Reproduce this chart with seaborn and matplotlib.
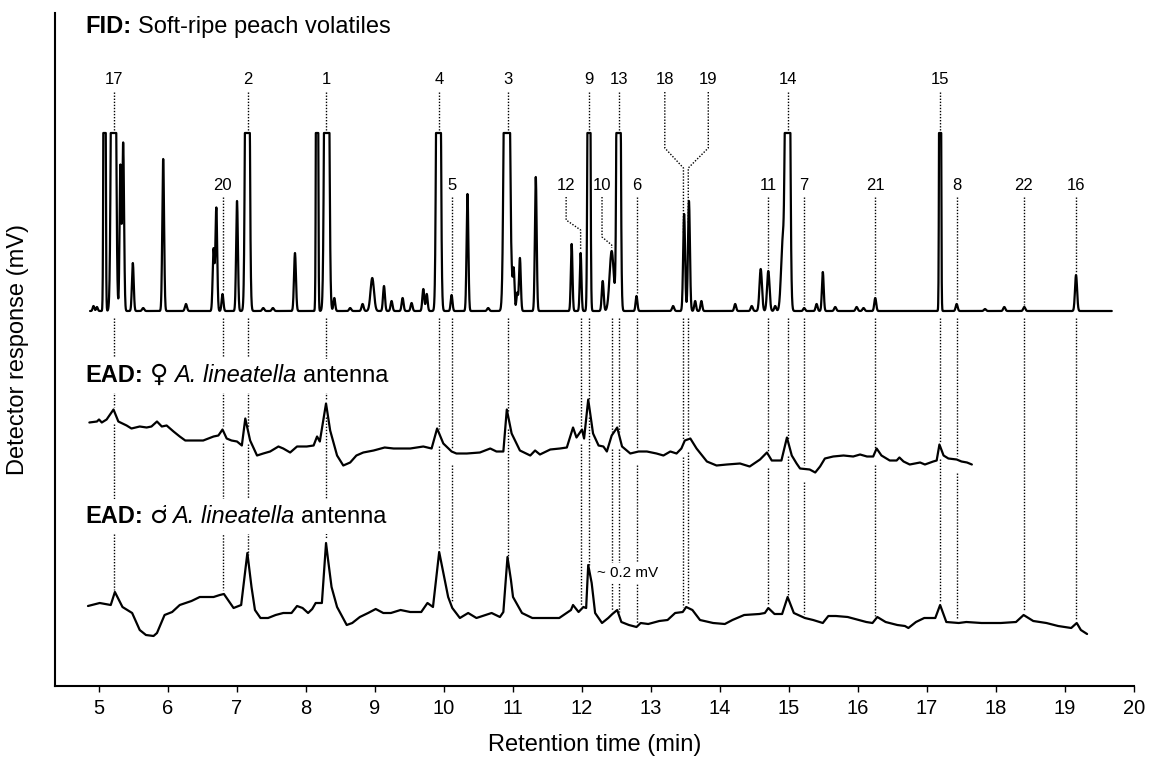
import numpy as np
import pandas as pd
import matplotlib
matplotlib.use("Agg")
import matplotlib.pyplot as plt
import seaborn as sns

# ---------------------------------------------------------------------------
# FID chromatogram, described as a peak table:
# retention time (min), height above baseline (detector units, OFF = off scale),
# peak sigma (min)
# ---------------------------------------------------------------------------
OFF = 999
fid_rt = [4.92, 4.97, 5.08, 5.21, 5.31, 5.35, 5.49, 5.64, 5.93, 6.26, 6.66, 6.70,
          6.79, 7.00, 7.15, 7.38, 7.52, 7.84, 8.16, 8.30, 8.41, 8.64, 8.82, 8.96,
          9.13, 9.24, 9.40, 9.53, 9.70, 9.75, 9.92, 10.11, 10.34, 10.64, 10.91,
          10.98, 11.01, 11.06, 11.10, 11.33, 11.85, 11.98, 12.10, 12.30, 12.43,
          12.53, 12.79, 13.32, 13.48, 13.55, 13.64, 13.73, 14.22, 14.46, 14.59,
          14.70, 14.80, 14.91, 14.98, 15.22, 15.40, 15.49, 15.67, 15.98, 16.08,
          16.25, 17.19, 17.43, 17.84, 18.12, 18.41, 19.16]
fid_height = [5, 4, OFF, OFF, 145, 168, 48, 3, 152, 7, 62, 103,
              17, 110, OFF, 3, 3, 58, OFF, OFF, 13, 3, 7, 33,
              25, 10, 13, 8, 22, 17, OFF, 16, 117, 3, OFF,
              23, 42, 18, 53, 134, 67, 58, OFF, 30, 60,
              OFF, 15, 5, 97, 110, 10, 10, 7, 5, 42,
              40, 5, 70, OFF, 3, 7, 39, 4, 4, 3,
              13, OFF, 7, 2, 4, 4, 36]
fid_sigma = [0.012, 0.012, 0.010, 0.022, 0.012, 0.013, 0.013, 0.015, 0.013, 0.015, 0.013, 0.013,
             0.013, 0.013, 0.020, 0.015, 0.015, 0.014, 0.010, 0.022, 0.013, 0.015, 0.015, 0.025,
             0.014, 0.014, 0.014, 0.014, 0.014, 0.013, 0.020, 0.013, 0.013, 0.015, 0.026,
             0.012, 0.012, 0.012, 0.013, 0.013, 0.012, 0.012, 0.013, 0.014, 0.030,
             0.018, 0.013, 0.015, 0.014, 0.014, 0.013, 0.013, 0.014, 0.015, 0.018,
             0.018, 0.014, 0.025, 0.022, 0.014, 0.014, 0.013, 0.015, 0.015, 0.015,
             0.014, 0.009, 0.014, 0.015, 0.015, 0.015, 0.015]
fid_range = [4.87, 19.68]
fid_full_scale = 178

# EAD, female A. lineatella antenna: time (min), response (detector units)
fem_time = [4.86, 4.97, 5.00, 5.04, 5.11, 5.21, 5.28, 5.40, 5.47, 5.59, 5.69, 5.76,
            5.84, 5.91, 5.98, 6.08, 6.17, 6.25, 6.37, 6.51, 6.66, 6.73, 6.79, 6.85,
            6.92, 7.00, 7.07, 7.12, 7.19, 7.29, 7.38, 7.48, 7.60, 7.67, 7.77, 7.87,
            8.01, 8.11, 8.16, 8.20, 8.29, 8.35, 8.45, 8.54, 8.64, 8.73, 8.83, 8.98,
            9.14, 9.27, 9.51, 9.70, 9.82, 9.90, 9.99, 10.11, 10.18, 10.33, 10.52, 10.67,
            10.76, 10.86, 10.91, 10.98, 11.10, 11.25, 11.32, 11.39, 11.54, 11.68, 11.78, 11.87,
            11.92, 12.00, 12.03, 12.09, 12.16, 12.24, 12.31, 12.36, 12.43, 12.51, 12.58, 12.70,
            12.82, 12.94, 13.08, 13.18, 13.28, 13.37, 13.44, 13.49, 13.57, 13.66, 13.81, 13.95,
            14.10, 14.29, 14.43, 14.58, 14.68, 14.75, 14.89, 14.97, 15.04, 15.11, 15.16, 15.30,
            15.38, 15.45, 15.52, 15.64, 15.79, 15.93, 16.03, 16.13, 16.22, 16.27, 16.34, 16.46,
            16.56, 16.60, 16.66, 16.75, 16.90, 16.97, 17.09, 17.14, 17.18, 17.24, 17.31, 17.43,
            17.50, 17.58, 17.65]
fem_resp = [1, 2, 4, 1, 4, 14, 2, -2, -5, -3, -4, -3,
            2, -3, -2, -8, -13, -17, -17, -17, -13, -12, -6, -15,
            -17, -18, -22, 5, -17, -32, -30, -28, -23, -25, -29, -23,
            -23, -22, -13, -18, 20, -7, -32, -42, -39, -32, -29, -27,
            -24, -25, -25, -23, -25, -5, -20, -28, -30, -30, -29, -25,
            -28, -28, 14, -10, -27, -32, -27, -31, -26, -25, -24, -4,
            -14, -6, -15, 24, -10, -22, -23, -28, -12, -4, -23, -30,
            -28, -28, -30, -32, -28, -30, -25, -17, -15, -25, -38, -42,
            -41, -40, -43, -36, -29, -37, -37, -14, -32, -40, -45, -46,
            -49, -43, -35, -33, -32, -33, -31, -33, -33, -25, -32, -37,
            -37, -34, -38, -41, -39, -41, -38, -37, -21, -32, -35, -36,
            -38, -39, -41]

# EAD, male A. lineatella antenna: time (min), response (detector units)
male_time = [4.84, 5.01, 5.17, 5.23, 5.34, 5.48, 5.59, 5.68, 5.79, 5.84, 5.95, 6.06,
             6.17, 6.34, 6.46, 6.66, 6.75, 6.81, 6.95, 7.06, 7.15, 7.21, 7.26, 7.34,
             7.45, 7.56, 7.67, 7.79, 7.87, 7.95, 8.03, 8.09, 8.14, 8.23, 8.29, 8.32,
             8.37, 8.45, 8.59, 8.67, 8.78, 8.90, 9.01, 9.12, 9.23, 9.37, 9.51, 9.67,
             9.76, 9.84, 9.93, 9.99, 10.06, 10.12, 10.23, 10.35, 10.47, 10.69, 10.81, 10.86,
             10.92, 10.97, 11.00, 11.13, 11.28, 11.45, 11.67, 11.84, 11.87, 11.95, 12.02, 12.06,
             12.09, 12.14, 12.19, 12.29, 12.38, 12.44, 12.51, 12.57, 12.68, 12.79, 12.85, 12.96,
             13.12, 13.24, 13.35, 13.46, 13.51, 13.60, 13.71, 13.90, 14.07, 14.18, 14.35, 14.57,
             14.65, 14.70, 14.79, 14.90, 14.98, 15.07, 15.23, 15.35, 15.49, 15.57, 15.68, 15.85,
             16.12, 16.21, 16.28, 16.40, 16.57, 16.68, 16.73, 16.84, 16.96, 17.12, 17.19, 17.28,
             17.46, 17.57, 17.79, 18.07, 18.29, 18.40, 18.54, 18.73, 18.90, 19.09, 19.17, 19.23,
             19.32]
male_resp = [0, 3, 1, 14, -1, -7, -24, -29, -30, -27, -9, -6,
             1, 5, 9, 9, 11, 12, -2, 1, 53, 19, -4, -12,
             -12, -9, -7, -7, 0, -2, -7, -3, 3, 3, 63, 46,
             19, -1, -19, -17, -11, -7, -3, -7, -7, -4, -6, -6,
             3, -1, 54, 33, 9, -2, -12, -7, -12, -7, -11, -6,
             49, 26, 9, -7, -12, -12, -12, -4, 1, -6, -1, -2,
             41, 23, -7, -17, -12, -8, -4, -16, -19, -21, -17, -18,
             -15, -14, -7, -6, -1, -4, -14, -17, -18, -14, -9, -8,
             -7, -2, -8, -8, 9, -7, -12, -14, -17, -10, -10, -11,
             -16, -17, -11, -16, -19, -20, -22, -16, -12, -12, 1, -16,
             -17, -16, -17, -17, -16, -9, -15, -17, -20, -22, -17, -24,
             -28]

# Active compounds: id, retention time (min), where the number is printed, label row
compound_ids = ["17", "20", "2", "1", "4", "5", "3", "12", "9", "10", "13", "6",
                "18", "19", "11", "14", "7", "21", "15", "8", "22", "16"]
compound_rt = [5.22, 6.79, 7.16, 8.29, 9.93, 10.11, 10.93, 11.98, 12.10, 12.43, 12.54, 12.79,
               13.47, 13.54, 14.70, 14.99, 15.22, 16.25, 17.19, 17.43, 18.40, 19.16]
label_rt = [5.22, 6.79, 7.16, 8.29, 9.93, 10.11, 10.93, 11.77, 12.10, 12.29, 12.54, 12.79,
            13.20, 13.83, 14.70, 14.99, 15.22, 16.25, 17.19, 17.43, 18.40, 19.16]
label_row = [0, 1, 0, 0, 0, 1, 0, 1, 0, 1, 0, 1,
             0, 0, 1, 0, 1, 1, 0, 1, 1, 1]

x_ticks = list(range(5, 21))

# ---------------------------------------------------------------------------
# layout (detector units on the y axis)
# ---------------------------------------------------------------------------
FID_BASE, FEM_BASE, MALE_BASE = 374.5, 262.0, 79.5
ROW_Y = [605.5, 499.5]
LINE_START = [593.5, 488.5]
# kinked leader lines: (height where the kink starts, height where it ends)
KINKS = {"12": (465.5, 455.5), "10": (448.5, 440.5),
         "18": (537.5, 517.5), "19": (537.5, 517.5)}

sns.set_theme(style="ticks")
plt.rcParams["font.family"] = ["Liberation Sans", "DejaVu Sans"]
plt.rcParams.update({"text.color": "black", "axes.labelcolor": "black",
                     "axes.edgecolor": "black", "xtick.color": "black",
                     "xtick.labelcolor": "black"})

W, H = 1156, 768
fig = plt.figure(figsize=(W / 100, H / 100), dpi=100)
fig.patch.set_facecolor("white")
ax = fig.add_axes([55 / W, 1 - 685.5 / H, (1134 - 55) / W, 672.5 / H])
ax.set_facecolor("white")
ax.set_xlim(4.362, 20.0)
ax.set_ylim(0, 672.5)

# FID trace built from the peak table, clipped at full scale
t_grid = np.arange(fid_range[0], fid_range[1], 0.002)
fid_sig = np.zeros_like(t_grid)
for rt, h, s in zip(fid_rt, fid_height, fid_sigma):
    fid_sig += h * np.exp(-0.5 * ((t_grid - rt) / s) ** 2)
fid_sig = np.minimum(fid_sig, fid_full_scale)

fid_df = pd.DataFrame({"time": t_grid, "signal": FID_BASE + fid_sig})
fem_df = pd.DataFrame({"time": fem_time, "signal": FEM_BASE + np.array(fem_resp, float)})
male_df = pd.DataFrame({"time": male_time, "signal": MALE_BASE + np.array(male_resp, float)})

for df in (fid_df, fem_df, male_df):
    sns.lineplot(data=df, x="time", y="signal", ax=ax, color="black", lw=1.6,
                 estimator=None, sort=False, zorder=3)

# dotted leader lines linking FID peaks with antennal responses
dot_kw = dict(color="black", lw=1.0, ls=(0, (1.0, 1.2)), zorder=1)
fem_end = fem_time[-1]
for cid, rt, lt, row in zip(compound_ids, compound_rt, label_rt, label_row):
    fid_top = FID_BASE + np.interp(rt, t_grid, fid_sig) + 3
    if cid in KINKS:
        k1, k2 = KINKS[cid]
        ax.plot([lt, lt, rt, rt], [LINE_START[row], k1, k2, fid_top], **dot_kw)
    else:
        ax.plot([rt, rt], [LINE_START[row], fid_top], **dot_kw)
    male_top = MALE_BASE + np.interp(rt, male_time, male_resp) + 4
    y0 = FID_BASE - 7
    if rt <= fem_end:
        fem_val = FEM_BASE + np.interp(rt, fem_time, fem_resp)
        ax.plot([rt, rt], [y0, fem_val + 4], **dot_kw)
        ax.plot([rt, rt], [fem_val - 13, male_top], **dot_kw)
    else:
        ax.plot([rt, rt], [y0, male_top], **dot_kw)
    ax.text(lt, ROW_Y[row], cid, ha="center", va="center", fontsize=12, zorder=4)


def text_runs(x, y, runs, size, boxed=False):
    """Write consecutive text runs with different styles on one baseline."""
    rend = fig.canvas.get_renderer()
    x_px, y_px = ax.transData.transform((x, y))
    space = 0.278 * size * fig.dpi / 72
    for text, style, gap in runs:
        style = dict(style)
        fsize = style.pop("size", size)
        xd, yd = ax.transData.inverted().transform((x_px, y_px))
        box = dict(boxstyle="square,pad=0.25", fc="white", ec="none") if boxed else None
        t = ax.text(xd, yd, text, fontsize=fsize, ha="left", va="baseline",
                    zorder=5, bbox=box, **style)
        x_px += t.get_window_extent(rend).width + (space if gap else 0)


BOLD = dict(fontweight="bold")
PLAIN = dict()
ITAL = dict(fontstyle="italic")
SYMBOL = dict(family=["DejaVu Sans"], fontweight="bold", size=18)
x_text = 4.80
LABEL_SIZE = 17
text_runs(x_text, 652.5, [("FID:", BOLD, True), ("Soft-ripe peach volatiles", PLAIN, False)],
          LABEL_SIZE)
text_runs(x_text, 303.5, [("EAD:", BOLD, True), ("\u2640", SYMBOL, True),
                          ("A. lineatella", ITAL, True), ("antenna", PLAIN, False)],
          LABEL_SIZE, boxed=True)
text_runs(x_text, 162.5, [("EAD:", BOLD, True), ("\u2642", SYMBOL, False),
                          ("A. lineatella", ITAL, True), ("antenna", PLAIN, False)],
          LABEL_SIZE, boxed=True)

ax.text(12.22, 112.5, "~ 0.2 mV", fontsize=11, ha="left", va="center", zorder=5,
        bbox=dict(boxstyle="square,pad=0.2", fc="white", ec="none"))

# axes styling
sns.despine(ax=ax, top=True, right=True)
ax.spines["left"].set_linewidth(1.5)
ax.spines["bottom"].set_linewidth(1.5)
ax.set_xticks(x_ticks)
ax.set_yticks([])
ax.tick_params(axis="x", direction="out", length=4, width=1.0, labelsize=14.5, pad=6)
ax.set_xlabel("Retention time (min)", fontsize=17)
ax.set_ylabel("Detector response (mV)", fontsize=17)
ax.xaxis.set_label_coords(0.5, -0.072)
ax.yaxis.set_label_coords(-0.024, 0.5)

fig.savefig("out.png", dpi=100, facecolor="white")
